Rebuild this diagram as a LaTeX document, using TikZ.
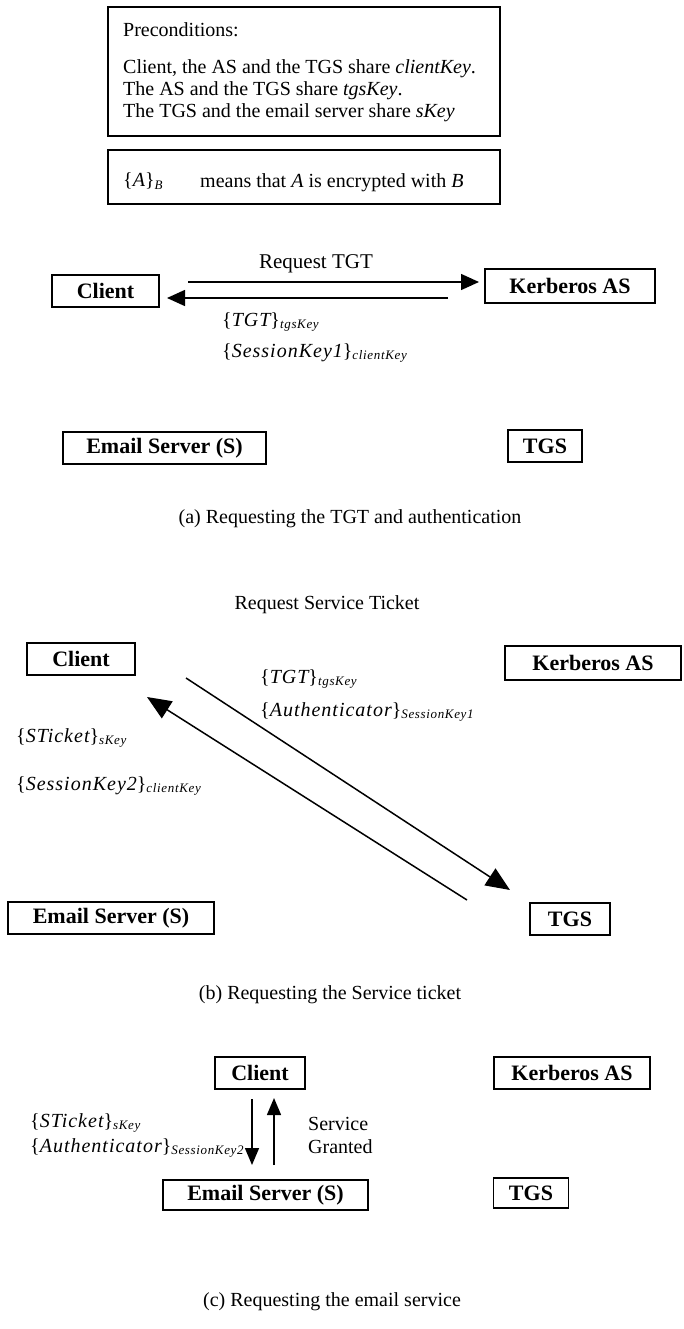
\documentclass[tikz,border=0pt]{standalone}
\usepackage{fontspec}
\setmainfont{Liberation Serif}
\newfontfamily\mifont[LetterSpace=5]{Liberation Serif}
\usetikzlibrary{arrows.meta}
\newcommand{\mi}[1]{{\mifont\itshape #1}}
\newcommand{\enc}[2]{{\fontsize{20}{24}\selectfont\{\mi{#1}\}}\raisebox{-0.55ex}{\fontsize{13}{13}\selectfont\mi{#2}}}
\begin{document}
\begin{tikzpicture}[x=1pt,y=-1pt,
  box/.style={draw, line width=1.5pt, inner sep=0pt, font=\fontsize{22}{26}\selectfont\bfseries},
  frame/.style={draw, line width=1.5pt, inner sep=0pt},
  txt/.style={inner sep=0pt, font=\fontsize{20}{24}\selectfont},
  mtxt/.style={inner sep=0pt, anchor=west},
  arrA/.style={line width=1.5pt, -{Triangle[length=18pt,width=16pt]}},
  arrB/.style={line width=1.5pt, -{Triangle[length=24pt,width=20pt]}},
  arrC/.style={line width=1.5pt, -{Triangle[length=17pt,width=14pt]}}]
\useasboundingbox (0,0) rectangle (683,1329);
% ---------- (a) ----------
\node[frame, minimum width=392pt, minimum height=129pt] (pre) at (304,71.5) {};
\node[txt, anchor=base west] (preT) at (123,37) {Preconditions:};
\node[txt, anchor=base west] (pre1) at (123,74) {Client, the AS and the TGS share \textit{clientKey}.};
\node[txt, anchor=base west] (pre2) at (123,96) {The AS and the TGS share \textit{tgsKey}.};
\node[txt, anchor=base west] (pre3) at (123,118) {The TGS and the email server share \textit{sKey}};
\node[frame, minimum width=392pt, minimum height=54pt] (def) at (304,177) {};
\node[mtxt] (defA) at (123,181) {\enc{A}{B}};
\node[txt, anchor=base west] (defT) at (200,188) {means that \textit{A} is encrypted with \textit{B}};

\node[box, minimum width=107pt, minimum height=32pt] (clientA) at (105.5,291) {Client};
\node[box, minimum width=170pt, minimum height=34pt] (asA) at (570,286) {Kerberos AS};
\node[box, minimum width=203pt, minimum height=32pt] (emailA) at (164.5,448) {Email Server (S)};
\node[box, minimum width=74pt, minimum height=32pt] (tgsA) at (545,446) {TGS};

\coordinate (a1s) at (188,282);
\coordinate (a1e) at (479,282);
\coordinate (a2s) at (448,298);
\coordinate (a2e) at (167,298);
\draw[arrA] (a1s) -- (a1e);
\draw[arrA] (a2s) -- (a2e);
\node[txt, font=\fontsize{21}{25}\selectfont] (reqTGT) at (316,264) {Request TGT};
\node[mtxt] (tgtA) at (222,322) {\enc{TGT}{tgsKey}};
\node[mtxt] (skA) at (222,353) {\enc{SessionKey1}{clientKey}};
\node[txt] (capA) at (350,519) {(a) Requesting the TGT and authentication};

% ---------- (b) ----------
\node[txt] (reqST) at (327,605) {Request Service Ticket};
\node[box, minimum width=108pt, minimum height=32pt] (clientB) at (81,659) {Client};
\node[box, minimum width=176pt, minimum height=34pt] (asB) at (593,663) {Kerberos AS};
\node[box, minimum width=206pt, minimum height=32pt] (emailB) at (111,918) {Email Server (S)};
\node[box, minimum width=80pt, minimum height=32pt] (tgsB) at (570,919) {TGS};
\coordinate (b1s) at (186,678);
\coordinate (b1e) at (510,890);
\coordinate (b2s) at (467,900);
\coordinate (b2e) at (147,697);
\draw[arrB] (b1s) -- (b1e);
\draw[arrB] (b2s) -- (b2e);
\node[mtxt] (tgtB) at (260,679) {\enc{TGT}{tgsKey}};
\node[mtxt] (authB) at (260,712) {\enc{Authenticator}{SessionKey1}};
\node[mtxt] (stB) at (16,738) {\enc{STicket}{sKey}};
\node[mtxt] (skB) at (16,786) {\enc{SessionKey2}{clientKey}};
\node[txt] (capB) at (330,995) {(b) Requesting the Service ticket};

% ---------- (c) ----------
\node[box, minimum width=90pt, minimum height=32pt] (clientC) at (260,1073) {Client};
\node[box, minimum width=156pt, minimum height=32pt] (asC) at (572,1073) {Kerberos AS};
\node[box, minimum width=205pt, minimum height=30pt] (emailC) at (265.5,1195) {Email Server (S)};
\node[box, minimum width=75pt, minimum height=30pt] (tgsC) at (531,1193) {TGS};
\coordinate (c1s) at (252,1099);
\coordinate (c1e) at (252,1165);
\coordinate (c2s) at (274,1165);
\coordinate (c2e) at (274,1098);
\draw[arrC] (c1s) -- (c1e);
\draw[arrC] (c2s) -- (c2e);
\node[mtxt] (stC) at (30,1123) {\enc{STicket}{sKey}};
\node[mtxt] (authC) at (30,1148) {\enc{Authenticator}{SessionKey2}};
\node[txt, anchor=west, align=left, font=\fontsize{20}{23}\selectfont] (srv) at (308,1135) {Service\\Granted};
\node[txt] (capC) at (332,1302) {(c) Requesting the email service};
\end{tikzpicture}
\end{document}
